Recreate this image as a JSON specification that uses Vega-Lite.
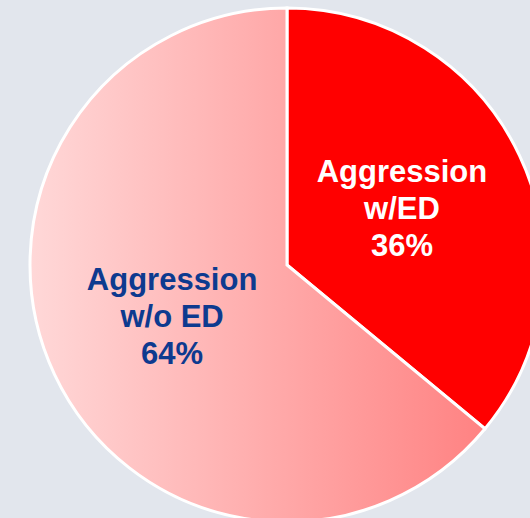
{
  "$schema": "https://vega.github.io/schema/vega-lite/v6.json",
  "width": 574,
  "height": 530,
  "autosize": {"type": "none"},
  "padding": 0,
  "background": "#E2E6ED",
  "view": {"stroke": null},
  "data": {
    "values": [
      {"group": "Aggression w/ED", "share": 36, "order": 1, "label": "Aggression\nw/ED\n36%"},
      {"group": "Aggression w/o ED", "share": 64, "order": 2, "label": "Aggression\nw/o ED\n64%"}
    ]
  },
  "encoding": {
    "theta": {"field": "share", "type": "quantitative", "stack": true},
    "order": {"field": "order", "type": "quantitative"}
  },
  "layer": [
    {
      "mark": {"type": "arc", "outerRadius": 257, "stroke": "white", "strokeWidth": 3},
      "encoding": {
        "color": {
          "condition": {"test": "datum.order === 1", "value": "#FF0000"},
          "value": {
            "gradient": "linear",
            "x1": 0, "y1": 0, "x2": 1, "y2": 0,
            "stops": [
              {"offset": 0, "color": "#FFD8D8"},
              {"offset": 1, "color": "#FF8282"}
            ]
          }
        }
      }
    },
    {
      "mark": {
        "type": "text",
        "radius": 127,
        "dy": -38,
        "font": "Liberation Sans",
        "fontWeight": "bold",
        "fontSize": 31,
        "lineHeight": 37,
        "lineBreak": "\n",
        "align": "center",
        "baseline": "middle"
      },
      "encoding": {
        "text": {"field": "label", "type": "nominal"},
        "color": {
          "condition": {"test": "datum.order === 1", "value": "#FFFFFF"},
          "value": "#0D3A8F"
        }
      }
    }
  ]
}
